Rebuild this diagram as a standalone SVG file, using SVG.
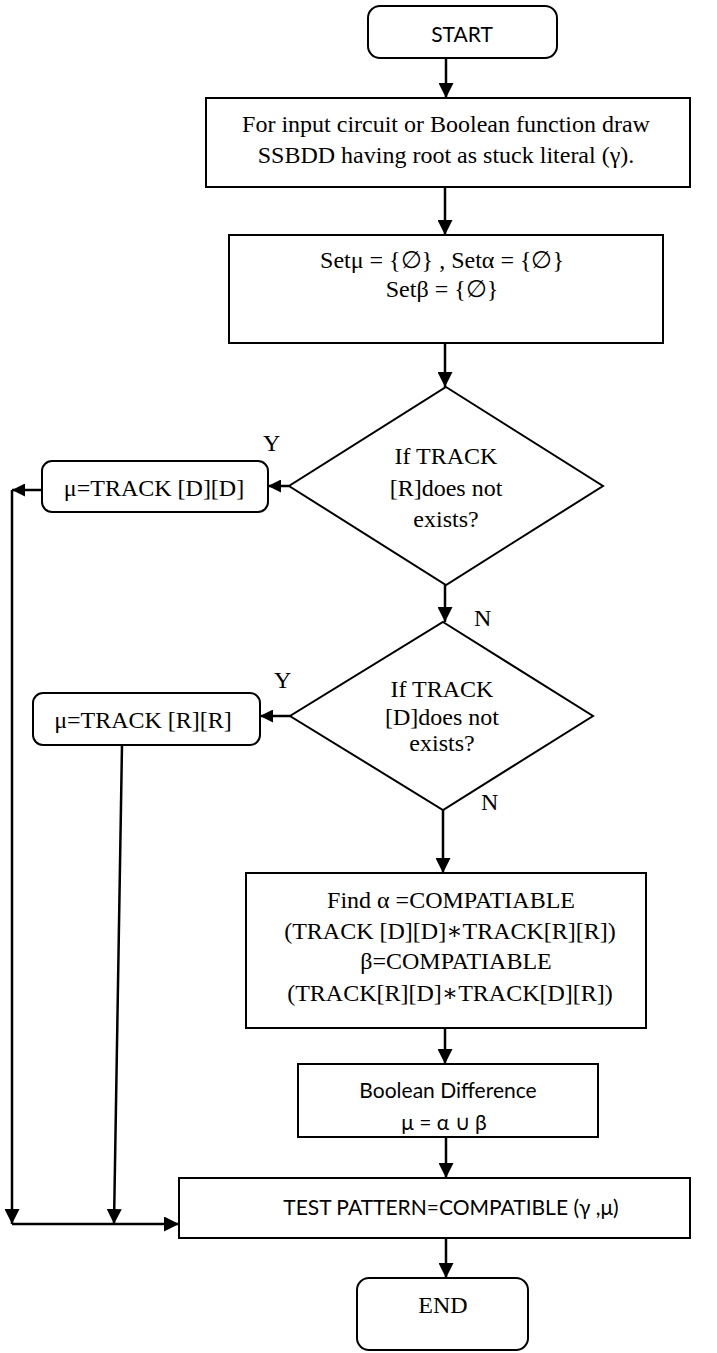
<svg xmlns="http://www.w3.org/2000/svg" width="717" height="1353" viewBox="0 0 717 1353">
<style>
.box{fill:#fff;stroke:#000;stroke-width:2}
.ln{fill:none;stroke:#000;stroke-width:2.5}
.serif{font-family:"Liberation Serif","Times New Roman","DejaVu Serif",serif;font-size:24px;fill:#000}
.sans{font-family:Lato,"Liberation Sans",sans-serif;font-size:21px;fill:#000}
.c{text-anchor:middle}
</style>
<defs>
<marker id="ah" viewBox="0 0 10 10" refX="10" refY="5" markerWidth="15" markerHeight="15" markerUnits="userSpaceOnUse" orient="auto">
<path d="M0,0 L10,5 L0,10 z" fill="#000"/>
</marker>
<marker id="ahs" viewBox="0 0 10 10" refX="10" refY="5" markerWidth="13" markerHeight="13" markerUnits="userSpaceOnUse" orient="auto">
<path d="M0,0 L10,5 L0,10 z" fill="#000"/>
</marker>
</defs>

<g id="connectors">
<path class="ln" d="M446,58 V98" marker-end="url(#ah)"/>
<path class="ln" d="M445,187 V235" marker-end="url(#ah)"/>
<path class="ln" d="M445,343 V387" marker-end="url(#ah)"/>
<path class="ln" d="M445,585 V622" marker-end="url(#ah)"/>
<path class="ln" d="M289,486 H268" marker-end="url(#ahs)"/>
<path class="ln" d="M42,490 H12" marker-end="url(#ahs)"/>
<path class="ln" d="M12,490 V1224" marker-end="url(#ah)"/>
<path class="ln" d="M12,1224 H179" marker-end="url(#ah)"/>
<path class="ln" d="M290,716 H260" marker-end="url(#ahs)"/>
<path class="ln" d="M122,745 L114,1224" marker-end="url(#ah)"/>
<path class="ln" d="M443,810 V873" marker-end="url(#ah)"/>
<path class="ln" d="M445,1028 V1064" marker-end="url(#ah)"/>
<path class="ln" d="M446,1137 V1178" marker-end="url(#ah)"/>
<path class="ln" d="M446,1238 V1278" marker-end="url(#ah)"/>
</g>

<g id="start">
<rect class="box" x="368" y="6" width="189" height="52" rx="12"/>
<text class="sans c" x="462" y="42">START</text>
</g>

<g id="draw-ssbdd">
<rect class="box" x="206" y="98" width="484" height="89"/>
<text class="serif c" x="446" y="132">For input circuit or Boolean function draw</text>
<text class="serif c" x="446" y="163">SSBDD having root as stuck literal (γ).</text>
</g>

<g id="init-sets">
<rect class="box" x="229" y="235" width="434" height="108"/>
<text class="serif c" x="442" y="268">Setμ = {∅} , Setα  = {∅}</text>
<text class="serif c" x="442" y="297">Setβ =  {∅}</text>
</g>

<g id="check-r">
<polygon class="box" points="446,387 603,486 446,585 289,486"/>
<text class="serif c" x="446" y="464">If TRACK</text>
<text class="serif c" x="446" y="496">[R]does not</text>
<text class="serif c" x="446" y="527">exists?</text>
<text class="serif" x="263" y="451">Y</text>
<text class="serif" x="474" y="626">N</text>
</g>

<g id="mu-dd">
<rect class="box" x="42" y="461" width="226" height="51" rx="10"/>
<text class="serif c" x="154" y="496">μ=TRACK [D][D]</text>
</g>

<g id="check-d">
<polygon class="box" points="443,622 593,716 443,810 290,716"/>
<text class="serif c" x="442" y="697">If TRACK</text>
<text class="serif c" x="442" y="725">[D]does not</text>
<text class="serif c" x="442" y="751">exists?</text>
<text class="serif" x="274" y="688">Y</text>
<text class="serif" x="481" y="810">N</text>
</g>

<g id="mu-rr">
<rect class="box" x="33" y="693" width="227" height="52" rx="10"/>
<text class="serif c" x="143" y="728">μ=TRACK [R][R]</text>
</g>

<g id="compatible">
<rect class="box" x="246" y="873" width="400" height="155"/>
<text class="serif c" x="451" y="908">Find α =COMPATIABLE</text>
<text class="serif c" x="450" y="939">(TRACK [D][D]∗TRACK[R][R])</text>
<text class="serif c" x="456" y="969">β=COMPATIABLE</text>
<text class="serif c" x="450" y="1001">(TRACK[R][D]∗TRACK[D][R])</text>
</g>

<g id="boolean-difference">
<rect class="box" x="298" y="1064" width="300" height="73"/>
<text class="sans c" x="448" y="1098">Boolean Difference</text>
<text class="sans c" x="444" y="1130">μ = α ∪ β</text>
</g>

<g id="test-pattern">
<rect class="box" x="179" y="1178" width="511" height="60"/>
<text class="sans c" x="451" y="1215">TEST PATTERN=COMPATIBLE (γ ,μ)</text>
</g>

<g id="end">
<rect class="box" x="357" y="1278" width="171" height="72" rx="12"/>
<text class="serif c" x="443" y="1313">END</text>
</g>
</svg>
